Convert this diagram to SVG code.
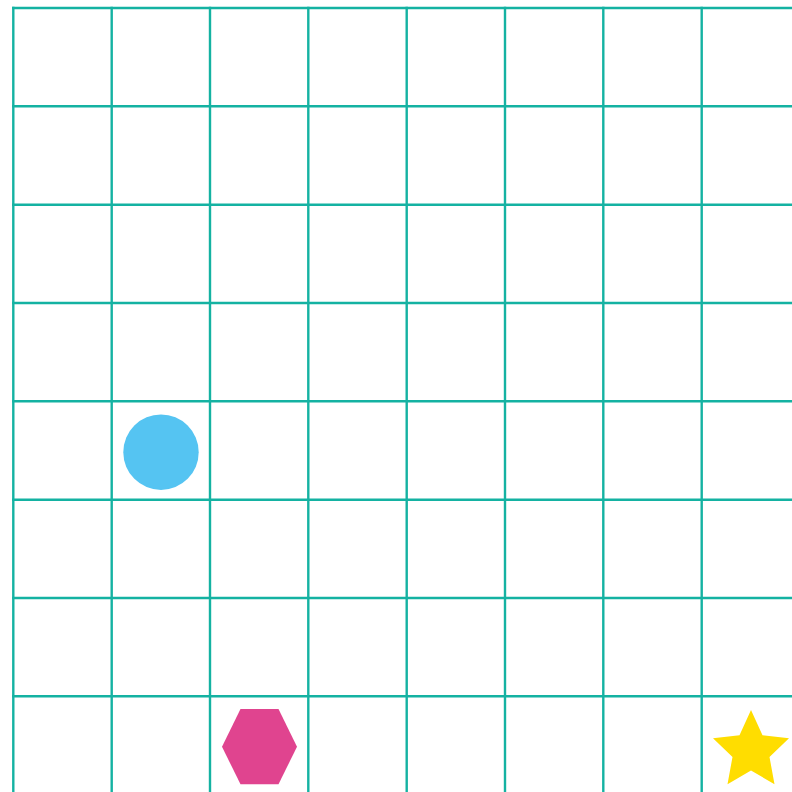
<svg xmlns="http://www.w3.org/2000/svg" width="792" height="792" viewBox="0 0 792 792">
<style>
.g{stroke:#14b2a2;stroke-width:2.4;fill:none}
</style>
<rect width="792" height="792" fill="#ffffff"/>
<g id="grid" class="g">
<line x1="13.3" y1="6.8" x2="13.3" y2="792"/>
<line x1="111.7" y1="6.8" x2="111.7" y2="792"/>
<line x1="210" y1="6.8" x2="210" y2="792"/>
<line x1="308.3" y1="6.8" x2="308.3" y2="792"/>
<line x1="406.7" y1="6.8" x2="406.7" y2="792"/>
<line x1="505" y1="6.8" x2="505" y2="792"/>
<line x1="603.3" y1="6.8" x2="603.3" y2="792"/>
<line x1="701.7" y1="6.8" x2="701.7" y2="792"/>
<line x1="12.1" y1="8" x2="792" y2="8"/>
<line x1="12.1" y1="106.3" x2="792" y2="106.3"/>
<line x1="12.1" y1="204.7" x2="792" y2="204.7"/>
<line x1="12.1" y1="303" x2="792" y2="303"/>
<line x1="12.1" y1="401.3" x2="792" y2="401.3"/>
<line x1="12.1" y1="499.7" x2="792" y2="499.7"/>
<line x1="12.1" y1="598" x2="792" y2="598"/>
<line x1="12.1" y1="696.3" x2="792" y2="696.3"/>
</g>
<g id="circle"><circle cx="161" cy="452.2" r="37.7" fill="#55c4f2"/></g>
<g id="hexagon"><polygon points="222,746.7 240.5,709 278.5,709 297,746.7 278.5,784.3 240.5,784.3" fill="#e0448f"/></g>
<g id="star"><polygon points="751,710 762.5,735.2 789,738.3 769.5,757 774.5,784.2 751,770.5 727.5,784.2 732.5,757 713,738.3 739.5,735.2" fill="#ffdd00"/></g>
</svg>
